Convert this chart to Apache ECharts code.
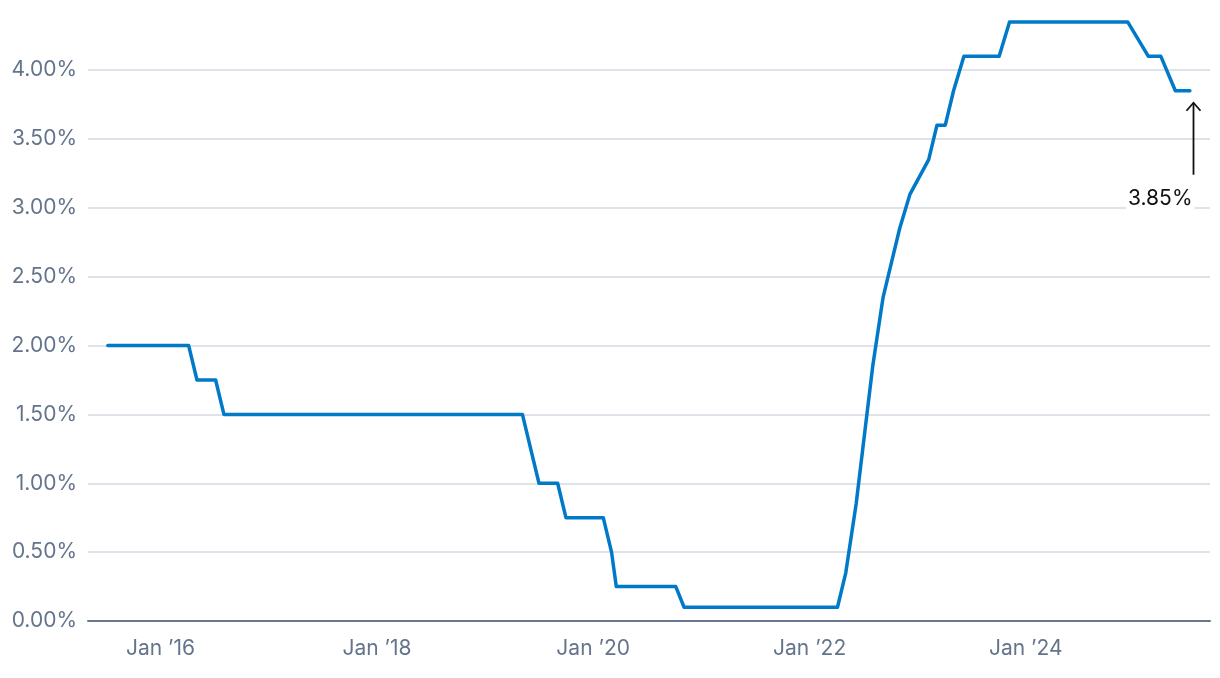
<!DOCTYPE html>
<html>
<head>
<meta charset="utf-8">
<script src="https://cdn.jsdelivr.net/npm/echarts@6/dist/echarts.min.js"></script>
<style>
  html, body { margin: 0; padding: 0; background: #ffffff; }
  #chart { width: 1220px; height: 678px; }
</style>
</head>
<body>
<div id="chart"></div>
<script>
// Cash rate target (%) at each board meeting date
const dates = [
  '2015-07-07','2015-08-04','2015-09-01','2015-10-06','2015-11-03','2015-12-01',
  '2016-02-02','2016-03-01','2016-04-05','2016-05-03','2016-06-07','2016-07-05','2016-08-02','2016-09-06','2016-10-04','2016-11-01','2016-12-06',
  '2017-02-07','2017-03-07','2017-04-04','2017-05-02','2017-06-06','2017-07-04','2017-08-01','2017-09-05','2017-10-03','2017-11-07','2017-12-05',
  '2018-02-06','2018-03-06','2018-04-03','2018-05-01','2018-06-05','2018-07-03','2018-08-07','2018-09-04','2018-10-02','2018-11-06','2018-12-04',
  '2019-02-05','2019-03-05','2019-04-02','2019-05-07','2019-06-04','2019-07-02','2019-08-06','2019-09-03','2019-10-01','2019-11-05','2019-12-03',
  '2020-02-04','2020-03-03','2020-03-19','2020-04-07','2020-05-05','2020-06-02','2020-07-07','2020-08-04','2020-09-01','2020-10-06','2020-11-03','2020-12-01',
  '2021-02-02','2021-03-02','2021-04-06','2021-05-04','2021-06-01','2021-07-06','2021-08-03','2021-09-07','2021-10-05','2021-11-02','2021-12-07',
  '2022-02-01','2022-03-01','2022-04-05','2022-05-03','2022-06-07','2022-07-05','2022-08-02','2022-09-06','2022-10-04','2022-11-01','2022-12-06',
  '2023-02-07','2023-03-07','2023-04-04','2023-05-02','2023-06-06','2023-07-04','2023-08-01','2023-09-05','2023-10-03','2023-11-07','2023-12-05',
  '2024-02-06','2024-03-19','2024-05-07','2024-06-18','2024-08-06','2024-09-24','2024-11-05','2024-12-10',
  '2025-02-18','2025-04-01','2025-05-20','2025-07-08'
];
const rates = [
  2.00,2.00,2.00,2.00,2.00,2.00,
  2.00,2.00,2.00,1.75,1.75,1.75,1.50,1.50,1.50,1.50,1.50,
  1.50,1.50,1.50,1.50,1.50,1.50,1.50,1.50,1.50,1.50,1.50,
  1.50,1.50,1.50,1.50,1.50,1.50,1.50,1.50,1.50,1.50,1.50,
  1.50,1.50,1.50,1.50,1.25,1.00,1.00,1.00,0.75,0.75,0.75,
  0.75,0.50,0.25,0.25,0.25,0.25,0.25,0.25,0.25,0.25,0.10,0.10,
  0.10,0.10,0.10,0.10,0.10,0.10,0.10,0.10,0.10,0.10,0.10,
  0.10,0.10,0.10,0.35,0.85,1.35,1.85,2.35,2.60,2.85,3.10,
  3.35,3.60,3.60,3.85,4.10,4.10,4.10,4.10,4.10,4.35,4.35,
  4.35,4.35,4.35,4.35,4.35,4.35,4.35,4.35,
  4.10,4.10,3.85,3.85
];
const xTickYears = [2016, 2018, 2020, 2022, 2024];
const yTicks = [0, 0.5, 1, 1.5, 2, 2.5, 3, 3.5, 4];
const xMin = '2015-05-01';
const xMax = '2025-09-14';
const annotationDate = '2025-07-20';

function ts(s) { const p = s.split('-').map(Number); return Date.UTC(p[0], p[1] - 1, p[2]); }

const seriesData = dates.map((d, i) => [ts(d), rates[i]]);
const lastRate = rates[rates.length - 1];

const chart = echarts.init(document.getElementById('chart'), null, { renderer: 'canvas' });
const labelColor = '#64748b';
const fontFamily = 'Inter, "Noto Sans", sans-serif';

chart.setOption({
  animation: false,
  backgroundColor: '#ffffff',
  grid: { left: 88, right: 10, top: 15, bottom: 57, containLabel: false },
  xAxis: {
    type: 'value',
    min: ts(xMin),
    max: ts(xMax),
    axisLine: { show: true, onZero: false, lineStyle: { color: '#68778f', width: 2 } },
    axisTick: { show: false },
    splitLine: { show: false },
    axisLabel: {
      customValues: xTickYears.map(y => Date.UTC(y, 0, 1)),
      formatter: v => 'Jan \u2019' + String(new Date(v).getUTCFullYear()).slice(2),
      color: labelColor, fontSize: 21, fontFamily: fontFamily, margin: 17,
      hideOverlap: false
    }
  },
  yAxis: {
    type: 'value',
    min: 0, max: 4.4, interval: 0.5,
    axisLine: { show: false },
    axisTick: { show: false },
    splitLine: { show: true, showMaxLine: false, lineStyle: { color: '#d3d8e2', width: 1.5 } },
    axisLabel: {
      customValues: yTicks,
      formatter: v => v.toFixed(2) + '%',
      color: labelColor, fontSize: 21, fontFamily: fontFamily, margin: 11
    }
  },
  series: [
    {
      type: 'line',
      data: seriesData,
      showSymbol: false,
      symbol: 'none',
      smooth: false,
      lineStyle: { color: '#0079c8', width: 3.5, cap: 'round', join: 'round' },
      z: 3
    },
    {
      type: 'custom',
      data: [[ts(annotationDate), lastRate]],
      silent: true,
      z: 4,
      renderItem: function (params, api) {
        const p = api.coord([api.value(0), api.value(1)]);
        const x = Math.round(p[0]) + 0.5;
        const tipY = p[1] + 12;
        const tailY = tipY + 72;
        return {
          type: 'group',
          children: [
            { type: 'line', shape: { x1: x, y1: tipY, x2: x, y2: tailY }, style: { stroke: '#111', lineWidth: 1.8 } },
            { type: 'polyline', shape: { points: [[x - 7, tipY + 8], [x, tipY], [x + 7, tipY + 8]] }, style: { stroke: '#111', lineWidth: 1.8, fill: null } },
            { type: 'text', x: x + 1, y: tailY + 12, style: {
                text: lastRate.toFixed(2) + '%', fill: '#111', font: '21px ' + fontFamily,
                align: 'right', verticalAlign: 'top', backgroundColor: '#ffffff', padding: [1, 2, 1, 2]
            } }
          ]
        };
      }
    }
  ]
});
</script>
</body>
</html>
